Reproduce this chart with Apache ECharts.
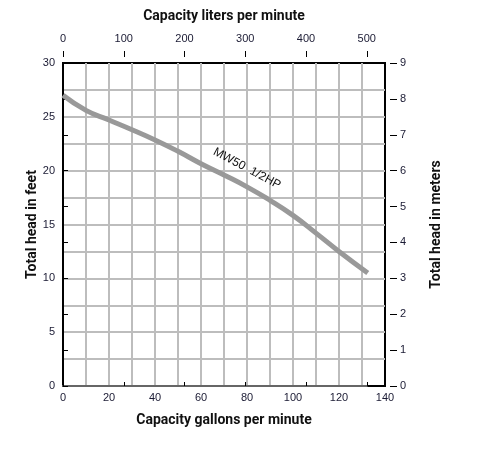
<!DOCTYPE html>
<html>
<head>
<meta charset="utf-8">
<script src="https://cdn.jsdelivr.net/npm/echarts@6/dist/echarts.min.js"></script>
<style>
  html, body { margin: 0; padding: 0; background: #fff; }
  #chart { width: 499px; height: 454px; }
</style>
</head>
<body>
<div id="chart"></div>
<script>
// pump curve
const gpm = [0, 10, 20, 30, 40, 50, 60, 70, 80, 90, 100, 110, 120, 132.5]
const headFt = [27.0, 25.6, 24.7, 23.8, 22.85, 21.8, 20.65, 19.6, 18.5, 17.25, 15.85, 14.2, 12.5, 10.5]
const curveName = 'MW50  1/2HP'

const LPM_PER_GPM = 3.78541
const gpmMax = 140

const titleFont = { fontFamily: 'Roboto, sans-serif', fontWeight: 'bold', fontSize: 14, color: '#111' }
const tickFont = { fontFamily: 'Liberation Sans, Arial, sans-serif', fontSize: 11, color: '#1a1a33' }
const gridLine = { color: '#bdbdbd', width: 2 }

const chart = echarts.init(document.getElementById('chart'))

const plot = { left: 63, top: 63, width: 322, height: 323 }

const option = {
  animation: false,
  grid: [
    Object.assign({ show: true, borderColor: '#000', borderWidth: 2, backgroundColor: '#fff' }, plot),
    // top liters axis only spans 0..500
    { left: plot.left, top: plot.top, height: plot.height, width: plot.width * 500 / (gpmMax * LPM_PER_GPM) }
  ],
  xAxis: [
    {
      gridIndex: 0, type: 'value', min: 0, max: gpmMax, interval: 10,
      name: 'Capacity gallons per minute', nameLocation: 'middle', nameGap: 27, nameTextStyle: titleFont,
      axisLine: { lineStyle: { color: '#000', width: 2 } },
      axisTick: { show: false },
      axisLabel: Object.assign({ margin: 6, formatter: v => (v % 20 === 0 ? v : '') }, tickFont),
      splitLine: { show: true, showMinLine: false, showMaxLine: false, lineStyle: gridLine }
    },
    {
      // carries the top title, centred on the plot
      gridIndex: 0, type: 'value', position: 'top', offset: 12, min: 0, max: gpmMax * LPM_PER_GPM,
      name: 'Capacity liters per minute', nameLocation: 'middle', nameGap: 28, nameTextStyle: titleFont,
      axisLine: { show: false }, axisTick: { show: false }, axisLabel: { show: false }, splitLine: { show: false }
    },
    {
      gridIndex: 1, type: 'value', position: 'top', offset: 12, min: 0, max: 500, interval: 100,
      axisLine: { lineStyle: { color: '#666', width: 2 } },
      axisTick: { length: 4, lineStyle: { color: '#000' } },
      axisLabel: Object.assign({ margin: 7 }, tickFont),
      splitLine: { show: false }
    },
    {
      gridIndex: 1, type: 'value', position: 'top', offset: 12, min: 0, max: 500, interval: 100,
      axisLine: { show: false },
      axisTick: { inside: true, length: 6, lineStyle: { color: '#000' } },
      axisLabel: { show: false },
      splitLine: { show: false }
    }
  ],
  yAxis: [
    {
      gridIndex: 0, type: 'value', min: 0, max: 30, interval: 2.5,
      name: 'Total head in feet', nameLocation: 'middle', nameGap: 24, nameRotate: 90, nameMoveOverlap: false,
      nameTextStyle: titleFont,
      axisLine: { lineStyle: { color: '#000', width: 2 } },
      axisTick: { show: false },
      axisLabel: Object.assign({ margin: 8, formatter: v => (v % 5 === 0 ? v : '') }, tickFont),
      splitLine: { show: true, showMinLine: false, showMaxLine: false, lineStyle: gridLine }
    },
    {
      gridIndex: 0, type: 'value', position: 'right', offset: 12, min: 0, max: 9, interval: 1,
      name: 'Total head in meters', nameLocation: 'middle', nameGap: 32, nameRotate: 90, nameTextStyle: titleFont,
      axisLine: { lineStyle: { color: '#000', width: 1 } },
      axisTick: { length: 5, lineStyle: { color: '#000' } },
      axisLabel: Object.assign({ margin: 3 }, tickFont),
      splitLine: { show: false }
    },
    {
      gridIndex: 0, type: 'value', position: 'right', offset: 12, min: 0, max: 9, interval: 1,
      axisLine: { show: false },
      axisTick: { inside: true, length: 7, lineStyle: { color: '#000' } },
      axisLabel: { show: false },
      splitLine: { show: false }
    },
    { gridIndex: 1, type: 'value', show: false, min: 0, max: 30 }
  ],
  series: [
    {
      type: 'line',
      xAxisIndex: 0,
      yAxisIndex: 0,
      data: gpm.map((g, i) => [g, headFt[i]]),
      smooth: 0.5,
      symbol: 'none',
      lineStyle: { color: '#999', width: 5, cap: 'butt' },
      markPoint: {
        silent: true,
        symbol: 'circle',
        symbolSize: 0,
        data: [{ coord: [80, 20.2] }],
        label: {
          show: true,
          position: 'inside',
          formatter: curveName,
          rotate: -28,
          fontFamily: 'Liberation Sans, Arial, sans-serif',
          fontSize: 12,
          color: '#111'
        }
      }
    }
  ]
}

chart.setOption(option)
</script>
</body>
</html>
